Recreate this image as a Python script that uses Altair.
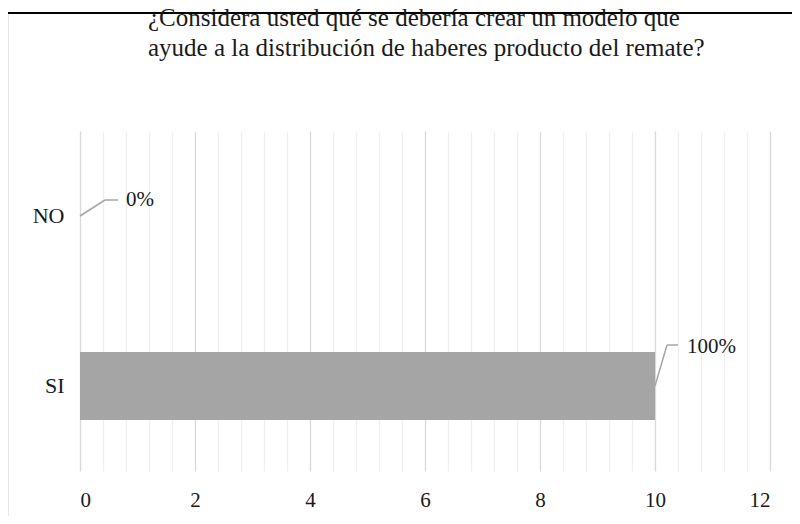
import altair as alt
import pandas as pd

categories = ["NO", "SI"]
values = [0, 10]
labels = ["0%", "100%"]
tick_values = [0, 0.4, 0.8, 1.2, 1.6, 2, 2.4, 2.8, 3.2, 3.6, 4, 4.4, 4.8, 5.2, 5.6, 6,
               6.4, 6.8, 7.2, 7.6, 8, 8.4, 8.8, 9.2, 9.6, 10, 10.4, 10.8, 11.2, 11.6, 12]
title_lines = ["¿Considera usted qué se debería crear un modelo que",
               "ayude a la distribución de haberes producto del remate?"]

df = pd.DataFrame({"cat": categories, "val": values, "lab": labels})

FONT = "Liberation Serif"
TXT = "#1a1a1a"

x_scale = alt.Scale(domain=[0, 12], nice=False, zero=True)
y_scale = alt.Scale(domain=categories, paddingInner=0.6, paddingOuter=0.3)

base = alt.Chart(df)

bars = base.mark_bar(color="#a5a5a5").encode(
    x=alt.X("val:Q", scale=x_scale, title=None,
            axis=alt.Axis(values=tick_values, tickCount=len(tick_values),
                          labelExpr="datum.value % 2 === 0 ? format(datum.value, 'd') : ''",
                          labelOverlap=False,
                          grid=True,
                          gridColor={"condition": {"test": "datum.value % 2 === 0", "value": "#d9d9d9"},
                                     "value": "#efefef"},
                          gridWidth=1.3,
                          domain=False, ticks=False,
                          labelFont=FONT, labelFontSize=21, labelColor=TXT,
                          labelPadding=18)),
    y=alt.Y("cat:N", scale=y_scale, sort=categories, title=None,
            axis=alt.Axis(domain=False, ticks=False, grid=False,
                          labelFont=FONT, labelFontSize=22, labelColor=TXT,
                          labelPadding=16)),
)

# label placement styles (pixel offsets) per category
styles = {
    "NO": dict(dx1=25, dy1=-16, dx2=38, tdx=46, tdy=-16),
    "SI": dict(dx1=12, dy1=-41, dx2=23, tdx=32, tdy=-39),
}

layers = [bars]
for c in categories:
    s = styles[c]
    sub = base.transform_filter(alt.datum.cat == c)
    diag = sub.mark_rule(color="#a6a6a6", strokeWidth=1.5,
                         x2Offset=s["dx1"], y2Offset=s["dy1"]).encode(
        x=alt.X("val:Q", scale=x_scale), x2="val:Q",
        y=alt.Y("cat:N", scale=y_scale, sort=categories), y2="cat:N")
    horiz = sub.mark_rule(color="#a6a6a6", strokeWidth=1.5,
                          xOffset=s["dx1"], x2Offset=s["dx2"],
                          yOffset=s["dy1"], y2Offset=s["dy1"]).encode(
        x=alt.X("val:Q", scale=x_scale), x2="val:Q",
        y=alt.Y("cat:N", scale=y_scale, sort=categories), y2="cat:N")
    txt = sub.mark_text(align="left", baseline="middle", font=FONT, fontSize=21,
                        color=TXT, dx=s["tdx"], dy=s["tdy"]).encode(
        x=alt.X("val:Q", scale=x_scale),
        y=alt.Y("cat:N", scale=y_scale, sort=categories),
        text="lab:N")
    layers += [diag, horiz, txt]

border = alt.Chart(pd.DataFrame({"k": [0]})).mark_rect(
    fill=None, stroke="#000000", strokeWidth=2.2).encode(
    x=alt.value(-73), x2=alt.value(730), y=alt.value(-118), y2=alt.value(430))
layers.append(border)

chart = alt.layer(*layers).properties(
    width=690, height=340,
    padding={"left": 72, "top": 123, "right": 22, "bottom": 45},
    autosize=alt.AutoSizeParams(type="none"),
    title=alt.TitleParams(text=title_lines, anchor="start", frame="group", dx=68,
                          orient="top", baseline="bottom", offset=-74,
                          font=FONT, fontSize=25, fontWeight="normal",
                          color=TXT, lineHeight=30),
).configure_view(stroke=None)

chart.save("out.html", embed_options={"renderer": "svg", "actions": False})
